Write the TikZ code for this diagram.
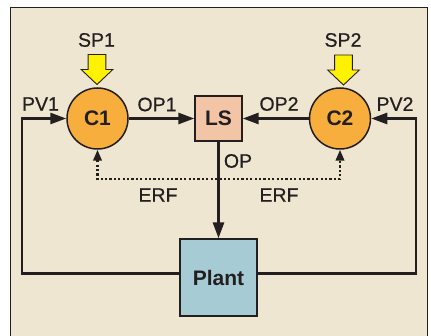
\documentclass[tikz,border=0pt]{standalone}
\usepackage{fontspec}
\setmainfont{Liberation Sans}
\newfontfamily\medfont[FakeBold=0.6]{Liberation Sans}
\usetikzlibrary{arrows.meta,calc}
\definecolor{bgc}{HTML}{EFE6D2}
\definecolor{darkc}{HTML}{231F20}
\definecolor{orangec}{HTML}{F8AE3C}
\definecolor{lsc}{HTML}{F3C5A7}
\definecolor{plantc}{HTML}{A6CBD4}
\definecolor{yellowc}{HTML}{FFF200}
\tikzset{
  ctrl/.style={circle, draw=darkc, fill=orangec, line width=1.5pt, minimum size=61pt, inner sep=0pt, font=\fontsize{21}{21}\selectfont\bfseries, text=darkc},
  blockbox/.style={rectangle, draw=darkc, line width=1.8pt, inner sep=0pt, font=\fontsize{21}{21}\selectfont\bfseries, text=darkc},
  lbl/.style={inner sep=0pt, font=\medfont\fontsize{19.5}{19.5}\selectfont, text=darkc},
  flow/.style={draw=darkc, line width=2.7pt, -{Triangle[length=16pt,width=11pt]}},
  dotflow/.style={draw=darkc, line width=2.3pt, dash pattern=on 2.2pt off 2.2pt, {Triangle[length=11pt,width=8.5pt]}-{Triangle[length=11pt,width=8.5pt]}},
  sparrow/.pic={\draw[fill=yellowc, draw=darkc, line width=0.9pt] (-8.85,-30) -- (8.85,-30) -- (8.85,-15) -- (15.85,-15) -- (0,0) -- (-15.85,-15) -- (-8.85,-15) -- cycle;}
}
\begin{document}
\begin{tikzpicture}[x=1pt, y=-1pt]
\useasboundingbox (0,0) rectangle (431,336);
\fill[white] (0,0) rectangle (431,336);
\fill[bgc] (10.5,8) rectangle (427.5,336);
\draw[darkc, line width=1pt] (10.5,336) -- (10.5,8) -- (427.5,8) -- (427.5,336);

% nodes
\node[ctrl] (C1) at (97.5,118.5) {C1};
\node[ctrl] (C2) at (340,118.5) {C2};
\node[blockbox, fill=lsc, minimum width=46.5pt, minimum height=45pt] (LS) at (218.5,118.5) {LS};
\node[blockbox, fill=plantc, minimum size=76.5pt] (Plant) at (218.5,277.5) {Plant};

% labels
\node[lbl] (sp1) at (96.5,40) {SP1};
\node[lbl] (sp2) at (343,40) {SP2};
\node[lbl] (pv1) at (40.5,104) {PV1};
\node[lbl] (op1) at (157,104.5) {OP1};
\node[lbl] (op2) at (279,104) {OP2};
\node[lbl] (pv2) at (395,104) {PV2};
\node[lbl] (op) at (238,161) {OP};
\node[lbl] (erf1) at (158,195) {ERF};
\node[lbl] (erf2) at (279,195) {ERF};

% setpoint arrows
\pic at (97,84.5) {sparrow};
\pic at (343.5,85) {sparrow};

% coordinates
\coordinate (lb) at (22,273.3);
\coordinate (rb) at (416,273.3);
\coordinate (db) at (97.5,179);

% dotted ERF
\draw[dotflow] (C1.south) -- (C1.south |- db) -- (C2.south |- db) -- (C2.south);

% flows
\draw[flow] (C1.east) -- (LS.west);
\draw[flow] (C2.west) -- (LS.east);
\draw[flow] (LS.south) -- (Plant.north);
\draw[flow, line join=miter] (Plant.west |- lb) -- (lb) -- (lb |- C1) -- (C1.west);
\draw[flow, line join=miter] (Plant.east |- rb) -- (rb) -- (rb |- C2) -- (C2.east);
\end{tikzpicture}
\end{document}
